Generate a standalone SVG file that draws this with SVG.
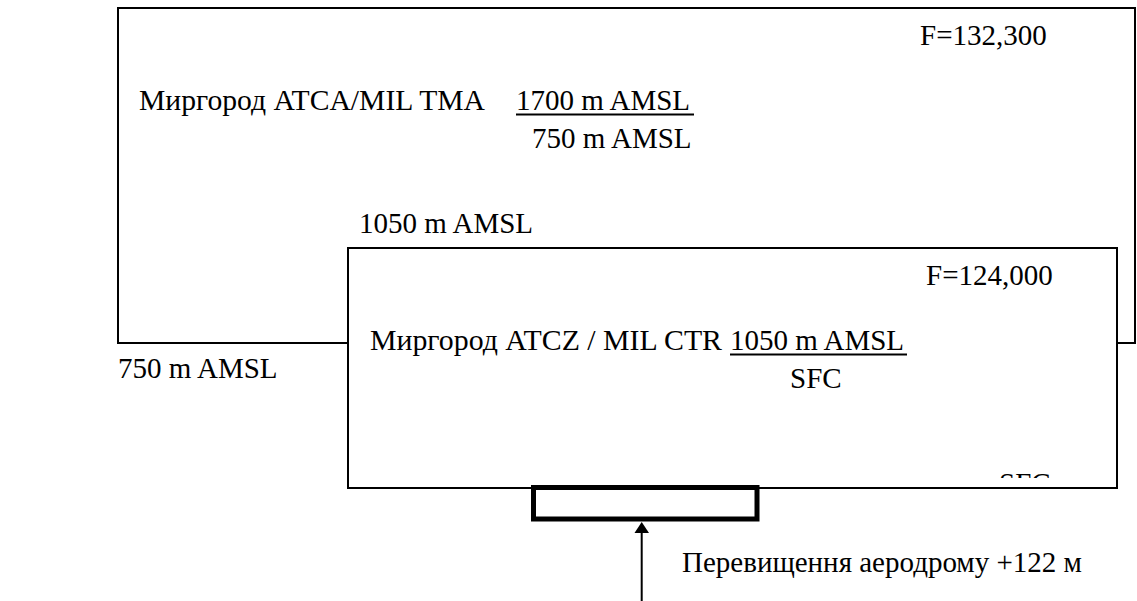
<svg xmlns="http://www.w3.org/2000/svg" width="1137" height="601" viewBox="0 0 1137 601">
  <style>
    .t { font-family: "Liberation Serif", "Times New Roman", serif; font-size: 29px; fill: #000; }
    .box { fill: #fff; stroke: #000; stroke-width: 2; }
    .ul { stroke: #000; stroke-width: 2; }
  </style>
  <defs>
    <clipPath id="clipSfc">
      <rect x="980" y="440" width="100" height="38"/>
    </clipPath>
  </defs>
  <rect x="0" y="0" width="1137" height="601" fill="#fff"/>

  <g id="tma">
    <rect class="box" x="118" y="8" width="1017" height="335"/>
    <text class="t" x="920" y="45">F=132,300</text>
    <text class="t" x="139" y="110" textLength="346" lengthAdjust="spacingAndGlyphs">Миргород ATCA/MIL TMA</text>
    <text class="t" x="516" y="110">1700 m AMSL</text>
    <line class="ul" x1="516" y1="114.5" x2="694" y2="114.5"/>
    <text class="t" x="532" y="148">750 m AMSL</text>
    <text class="t" x="118" y="378">750 m AMSL</text>
  </g>

  <g id="ctr">
    <text class="t" x="359" y="233">1050 m AMSL</text>
    <rect class="box" x="348" y="248" width="769" height="240"/>
    <text class="t" x="926" y="285">F=124,000</text>
    <text class="t" x="370" y="350" textLength="352" lengthAdjust="spacingAndGlyphs">Миргород ATCZ / MIL CTR</text>
    <text class="t" x="730" y="350">1050 m AMSL</text>
    <line class="ul" x1="730" y1="354.5" x2="907" y2="354.5"/>
    <text class="t" x="790" y="388">SFC</text>
    <text class="t" x="999" y="493" clip-path="url(#clipSfc)">SFC</text>
  </g>

  <g id="aerodrome">
    <rect x="533.5" y="487.5" width="223.5" height="31.5" fill="#fff" stroke="#000" stroke-width="5"/>
    <text class="t" x="682" y="572">Перевищення аеродрому +122 м</text>
  </g>

  <g id="connectors">
    <line x1="641.7" y1="601" x2="641.7" y2="530" stroke="#000" stroke-width="2"/>
    <polygon points="641.7,522 634.5,533 649,533" fill="#000"/>
  </g>
</svg>
